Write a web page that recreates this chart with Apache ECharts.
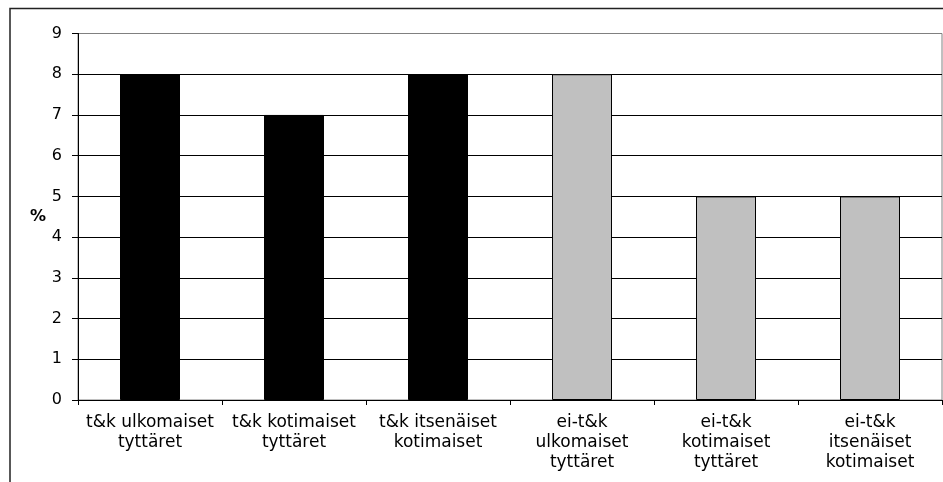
<!DOCTYPE html>
<html>
<head>
<meta charset="utf-8">
<script src="https://cdn.jsdelivr.net/npm/echarts@6/dist/echarts.min.js"></script>
<style>
html,body{margin:0;padding:0;background:#fff;}
#chart{width:943px;height:482px;}
</style>
</head>
<body>
<div id="chart"></div>
<script>
const categories = [
  "t&k ulkomaiset\ntyttäret",
  "t&k kotimaiset\ntyttäret",
  "t&k itsenäiset\nkotimaiset",
  "ei-t&k\nulkomaiset\ntyttäret",
  "ei-t&k\nkotimaiset\ntyttäret",
  "ei-t&k\nitsenäiset\nkotimaiset"
];
const tkValues = [8, 7, 8, null, null, null];
const eiTkValues = [null, null, null, 8, 5, 5];
const yTicks = [0, 1, 2, 3, 4, 5, 6, 7, 8, 9];
const yAxisName = "%";

const chart = echarts.init(document.getElementById('chart'), null, {renderer: 'canvas'});
const FONT = 'DejaVu Sans';
chart.setOption({
  animation: false,
  backgroundColor: '#ffffff',
  graphic: [{
    type: 'rect',
    shape: {x: 10, y: 8.5, width: 1000, height: 600},
    style: {fill: 'none', stroke: '#222', lineWidth: 1.5},
    silent: true
  }],
  grid: {
    left: 78, top: 33.5, right: 1, bottom: 82,
    show: true, borderColor: '#808080', borderWidth: 1, backgroundColor: 'transparent'
  },
  xAxis: {
    type: 'category',
    data: categories,
    axisLine: {lineStyle: {color: '#000', width: 1}},
    axisTick: {show: true, length: 5, alignWithLabel: false, lineStyle: {color: '#000'}},
    axisLabel: {
      interval: 0, margin: 13, color: '#000',
      fontFamily: FONT, fontSize: 17, lineHeight: 20, align: 'center'
    }
  },
  yAxis: {
    type: 'value',
    min: yTicks[0], max: yTicks[yTicks.length - 1], interval: 1,
    name: yAxisName,
    nameLocation: 'middle',
    nameRotate: 0,
    nameGap: 30,
    nameTextStyle: {fontFamily: FONT, fontSize: 16, fontWeight: 'bold', color: '#000'},
    axisLine: {show: true, lineStyle: {color: '#000', width: 1}},
    axisTick: {show: true, length: 6, inside: false, lineStyle: {color: '#000'}},
    axisLabel: {margin: 16, color: '#000', fontFamily: FONT, fontSize: 16},
    splitLine: {show: true, showMaxLine: false, lineStyle: {color: '#000', width: 1}}
  },
  series: [
    {
      type: 'bar', data: tkValues, barWidth: 60, barGap: '-100%',
      itemStyle: {color: '#000000', borderColor: '#000', borderWidth: 1}
    },
    {
      type: 'bar', data: eiTkValues, barWidth: 60, barGap: '-100%',
      itemStyle: {color: '#c0c0c0', borderColor: '#000', borderWidth: 1}
    }
  ]
});
</script>
</body>
</html>
